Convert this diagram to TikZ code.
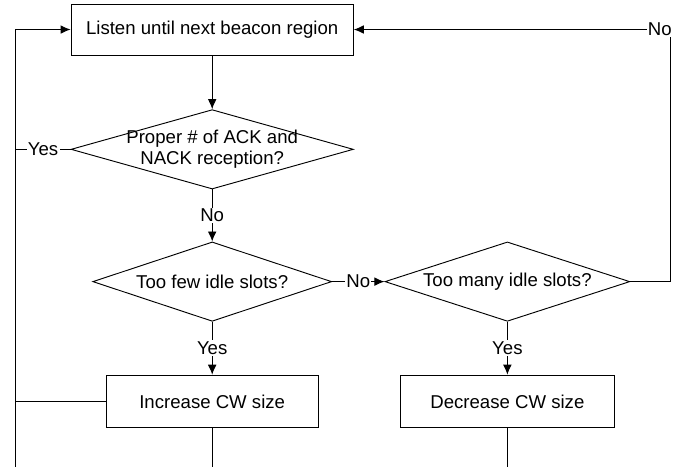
\documentclass[tikz,border=0pt]{standalone}
\usepackage{fontspec}
\setmainfont{Liberation Sans}
\usetikzlibrary{calc,arrows.meta,shapes.geometric,positioning}
\tikzset{
    block/.style = {draw, rectangle, 
        minimum height=1.39cm, 
        minimum width=5.62cm, align=center},
    decision/.style = {draw, diamond, inner sep=0pt,
        minimum height=2.1cm},
    arrow/.style={draw, -{Latex[length=7.5pt,width=6.5pt]}},
    yesno/.style = {fill=white, inner sep=1pt}
}

\begin{document}
\begin{tikzpicture}[node distance=3.17cm, line width=0.7pt, font=\fontsize{14}{16.3}\selectfont]
        \useasboundingbox (-5.614,0.781) rectangle (12.324,-11.549);
        \node [block, minimum width=7.47cm, minimum height=1.35cm] (listen) {Listen until next beacon region};
        \node [decision, below of=listen, minimum width=7.47cm, label={[align=center]center:Proper \# of ACK and\\NACK reception?}] (proper) {};
        \node [decision, below of=proper, node distance=3.5cm, minimum width=6.32cm, label=center:Too few idle slots?] (few) {};
        \node [decision, right of=few, node distance=7.81cm, minimum width=6.48cm, label=center:Too many idle slots?] (many) {};
        \node [block, below of=few] (inc) {Increase CW size};
        \node [block, below of=many, minimum width=5.64cm] (dec) {Decrease CW size};
        % loose ends at the bottom
        \coordinate [below=1.02cm of inc.south] (incend);
        \coordinate [below=1.02cm of dec.south] (decend);
        \coordinate (loopend) at ($(listen.west |- incend)+(-1.455,0)$);
        \draw [arrow] (loopend) |- (listen.west);
        \draw (proper.west) -- node[yesno]{Yes} (proper.west -| loopend);
        \draw (inc.west) -- (inc.west -| loopend);
        \draw (inc.south) -- (incend);
        \draw (dec.south) -- (decend);
        \draw [arrow] (listen) -- (proper);
        \draw [arrow] (proper) -- node[yesno]{No} (few);
        \draw [arrow] (few) -- node[yesno]{No} (many);
        \draw [arrow] (few) -- node[yesno]{Yes} (inc);
        \draw [arrow] (many) -- node[yesno]{Yes} (dec);
        \draw [arrow] (many.east) -- ++(1.07,0) |- node[pos=0.5, yesno, anchor=east, xshift=2pt]{No} (listen.east);
\end{tikzpicture}
\end{document}
